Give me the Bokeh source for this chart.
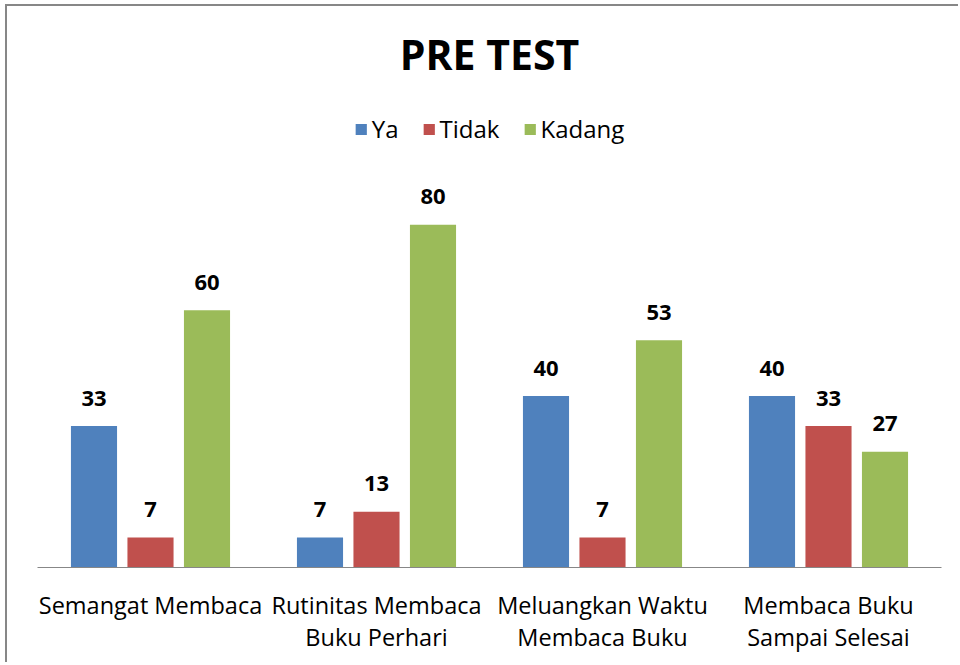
from bokeh.plotting import figure
from bokeh.models import ColumnDataSource, FactorRange, Range1d, Legend, LegendItem
from bokeh.transform import dodge
from bokeh.core.properties import value
from bokeh.embed import file_html
from bokeh.resources import INLINE

categories = ["Semangat Membaca", "Rutinitas Membaca\nBuku Perhari",
              "Meluangkan Waktu\nMembaca Buku", "Membaca Buku\nSampai Selesai"]
ya = [33, 7, 40, 40]
tidak = [7, 13, 7, 33]
kadang = [60, 80, 53, 27]
series_names = ["Ya", "Tidak", "Kadang"]
colors = ["#4F81BD", "#C0504D", "#9BBB59"]

src = ColumnDataSource(dict(
    cat=categories,
    ya=ya, tidak=tidak, kadang=kadang,
    ya_l=[str(v) for v in ya],
    tidak_l=[str(v) for v in tidak],
    kadang_l=[str(v) for v in kadang],
))

p = figure(x_range=FactorRange(factors=categories, range_padding=0),
           y_range=Range1d(0, 112),
           width=953, height=658, output_backend="svg", toolbar_location=None,
           min_border_left=30, min_border_right=19, min_border_top=81, min_border_bottom=97,
           styles={"border-top": "2px solid #878787", "border-left": "2px solid #878787",
                   "border-right": "0px none", "border-bottom": "0px none",
                   "outline": "none", "box-shadow": "none",
                   "margin-left": "5px", "margin-top": "4px"})

p.outline_line_color = None
p.border_fill_color = "#ffffff"
p.background_fill_color = "#ffffff"
p.xgrid.visible = False
p.ygrid.visible = False
p.yaxis.visible = False

p.title.text = "PRE TEST"
p.title.align = "center"
p.title.text_font = "Open Sans"
p.title.text_font_size = "41px"
p.title.text_font_style = "bold"
p.title.text_color = "#000000"
p.title.standoff = 12

ax = p.xaxis[0]
ax.axis_line_color = "#878787"
ax.axis_line_width = 1
ax.major_tick_line_color = None
ax.minor_tick_line_color = None
ax.major_label_text_font = "Open Sans"
ax.major_label_text_font_size = "23.5px"
ax.major_label_text_color = "#000000"
ax.major_label_text_line_height = 1.03
ax.major_label_standoff = 15

offsets = [-0.25, 0.0, 0.25]
keys = ["ya", "tidak", "kadang"]
items = []
for k, off, col, name in zip(keys, offsets, colors, series_names):
    r = p.vbar(x=dodge("cat", off, range=p.x_range), top=k, width=0.204, source=src,
               fill_color=col, line_color=None)
    p.text(x=dodge("cat", off, range=p.x_range), y=k, text=k + "_l", source=src,
           text_align="center", text_baseline="alphabetic", y_offset=-28,
           text_font=value("Open Sans"), text_font_style="bold",
           text_font_size="22px", text_color="#000000")
    items.append(LegendItem(label=name, renderers=[r]))

legend = Legend(items=items, orientation="horizontal", location="top_center",
                glyph_width=14, glyph_height=14, label_height=14, label_standoff=4,
                spacing=23, padding=0, margin=25,
                label_text_font="Open Sans", label_text_font_size="24px",
                label_text_color="#000000",
                border_line_color=None, background_fill_alpha=0)
p.add_layout(legend)

open("out.html", "w").write(file_html(p, INLINE))
